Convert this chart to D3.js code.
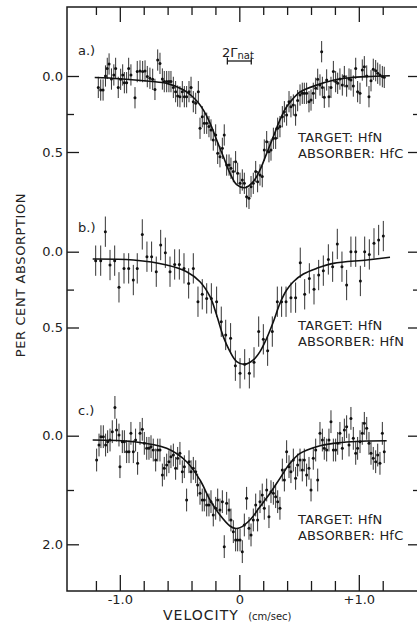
<!DOCTYPE html>
<html>
<head>
<meta charset="utf-8">
<script src="https://cdn.jsdelivr.net/npm/d3@7"></script>
<style>
body { margin: 0; background: #fff; }
text { font-family: "DejaVu Sans", sans-serif; fill: #222; }
.axis path { display: none; }
.axis line { stroke: #1a1a1a; stroke-width: 1.3; }
.err { stroke: #333; stroke-width: 1; }
.dot { fill: #111; }
.fit { fill: none; stroke: #111; stroke-width: 1.6; }
</style>
</head>
<body>
<svg width="417" height="628"></svg>
<script>

// ---- data: [velocity (cm/sec), per cent absorption] ----
var aPoints = [[-1.18,0.075],[-1.16,0.092],[-1.14,0.092],[-1.12,0.0],[-1.105,-0.05],[-1.09,-0.079],[-1.07,0.02],[-1.05,-0.007],[-1.035,-0.05],[-1.013,0.075],[-0.993,0.022],[-0.976,-0.007],[-0.962,0.044],[-0.943,0.044],[-0.926,-0.05],[-0.907,-0.007],[-0.873,0.143],[-0.854,-0.029],[-0.831,-0.033],[-0.809,-0.029],[-0.789,-0.033],[-0.77,0.004],[-0.748,0.015],[-0.725,0.022],[-0.706,0.088],[-0.683,-0.105],[-0.664,-0.083],[-0.644,0.02],[-0.628,0.037],[-0.608,0.037],[-0.589,0.037],[-0.572,0.037],[-0.552,0.075],[-0.533,0.103],[-0.516,0.132],[-0.497,0.136],[-0.477,0.103],[-0.46,0.136],[-0.441,0.136],[-0.421,0.103],[-0.404,0.075],[-0.385,0.169],[-0.365,0.18],[-0.343,0.103],[-0.329,0.344],[-0.31,0.268],[-0.293,0.311],[-0.273,0.311],[-0.254,0.333],[-0.237,0.355],[-0.218,0.421],[-0.198,0.388],[-0.181,0.509],[-0.162,0.531],[-0.142,0.476],[-0.126,0.388],[-0.106,0.586],[-0.086,0.586],[-0.07,0.607],[-0.05,0.629],[-0.031,0.564],[-0.014,0.64],[0.006,0.706],[0.025,0.684],[0.042,0.706],[0.061,0.794],[0.081,0.805],[0.098,0.728],[0.117,0.706],[0.137,0.629],[0.153,0.695],[0.173,0.651],[0.192,0.662],[0.209,0.487],[0.229,0.432],[0.248,0.498],[0.265,0.487],[0.285,0.41],[0.304,0.41],[0.321,0.344],[0.34,0.333],[0.36,0.268],[0.377,0.235],[0.396,0.257],[0.416,0.169],[0.432,0.202],[0.452,0.191],[0.471,0.257],[0.488,0.162],[0.508,0.125],[0.527,0.114],[0.544,0.114],[0.563,0.114],[0.583,0.169],[0.6,0.158],[0.619,0.114],[0.639,0.081],[0.656,0.022],[0.675,0.059],[0.689,-0.16],[0.695,0.075],[0.711,0.14],[0.731,0.026],[0.75,0.136],[0.767,0.075],[0.787,-0.029],[0.806,0.037],[0.823,0.048],[0.842,0.02],[0.862,0.059],[0.879,0.004],[0.898,0.066],[0.918,0.02],[0.934,0.026],[0.954,0.066],[0.974,-0.05],[0.99,0.103],[1.01,0.114],[1.029,-0.039],[1.046,-0.061],[1.066,0.0],[1.085,0.136],[1.102,0.031],[1.121,-0.044],[1.141,-0.035],[1.158,-0.018],[1.177,-0.007],[1.197,0.004],[1.213,0.009]];
var aFit = [[-1.21,0.01],[-1.0,0.018],[-0.75,0.035],[-0.6,0.05],[-0.47,0.09],[-0.4,0.13],[-0.35,0.17],[-0.3,0.225],[-0.245,0.31],[-0.19,0.42],[-0.134,0.53],[-0.078,0.64],[-0.022,0.715],[0.047,0.735],[0.117,0.695],[0.173,0.618],[0.229,0.509],[0.285,0.399],[0.34,0.289],[0.396,0.202],[0.452,0.147],[0.508,0.105],[0.647,0.06],[0.787,0.028],[0.926,0.012],[1.066,0.004],[1.26,-0.002]];
var aErr = 0.07;

var bPoints = [[-1.202,0.059],[-1.16,0.059],[-1.121,-0.132],[-1.082,0.088],[-1.043,0.059],[-1.007,0.235],[-0.965,0.11],[-0.926,0.11],[-0.887,0.187],[-0.854,0.11],[-0.812,-0.114],[-0.773,0.033],[-0.734,0.033],[-0.695,0.132],[-0.658,-0.044],[-0.619,0.007],[-0.58,0.132],[-0.541,0.084],[-0.502,0.084],[-0.463,0.11],[-0.424,0.209],[-0.385,0.11],[-0.346,0.33],[-0.31,0.281],[-0.273,0.308],[-0.234,0.308],[-0.19,0.33],[-0.151,0.462],[-0.114,0.549],[-0.073,0.571],[-0.033,0.752],[0.006,0.802],[0.045,0.743],[0.084,0.802],[0.123,0.73],[0.162,0.527],[0.201,0.578],[0.237,0.653],[0.276,0.527],[0.318,0.33],[0.354,0.33],[0.391,0.33],[0.432,0.303],[0.471,0.303],[0.51,0.073],[0.547,0.281],[0.586,0.176],[0.625,0.248],[0.664,0.154],[0.703,0.125],[0.745,0.051],[0.781,0.099],[0.82,-0.051],[0.859,0.099],[0.898,0.22],[0.934,0.0],[0.974,0.0],[1.013,0.193],[1.049,0.0],[1.088,0.018],[1.127,-0.055],[1.166,-0.077],[1.205,-0.103]];
var bFit = [[-1.227,0.048],[-0.887,0.055],[-0.608,0.088],[-0.441,0.132],[-0.329,0.198],[-0.245,0.297],[-0.19,0.418],[-0.134,0.56],[-0.078,0.659],[-0.022,0.725],[0.047,0.743],[0.117,0.714],[0.173,0.659],[0.229,0.571],[0.285,0.462],[0.34,0.341],[0.396,0.253],[0.452,0.198],[0.536,0.147],[0.647,0.11],[0.787,0.077],[1.066,0.055],[1.261,0.037]];
var bErr = 0.1;

var cPoints = [[-1.194,0.448],[-1.174,0.172],[-1.158,0.018],[-1.138,0.018],[-1.119,0.172],[-1.102,0.11],[-1.082,0.08],[-1.063,-0.074],[-1.041,-0.521],[-1.027,-0.104],[-1.007,-0.012],[-0.999,0.571],[-0.979,0.11],[-0.962,0.11],[-0.943,0.294],[-0.923,0.294],[-0.907,-0.043],[-0.887,0.294],[-0.868,0.08],[-0.851,0.509],[-0.831,-0.043],[-0.812,-0.117],[-0.795,0.141],[-0.775,0.233],[-0.756,0.233],[-0.739,0.202],[-0.72,0.264],[-0.7,0.448],[-0.683,0.264],[-0.664,0.264],[-0.644,0.724],[-0.628,0.601],[-0.608,0.54],[-0.589,0.479],[-0.572,0.387],[-0.552,0.356],[-0.533,0.601],[-0.516,0.417],[-0.497,0.325],[-0.477,0.663],[-0.46,0.571],[-0.441,1.184],[-0.421,0.479],[-0.404,0.663],[-0.385,0.601],[-0.365,0.663],[-0.349,0.908],[-0.329,1.061],[-0.31,1.184],[-0.293,1.184],[-0.273,1.276],[-0.254,1.276],[-0.237,1.215],[-0.218,1.46],[-0.198,1.337],[-0.181,1.184],[-0.162,1.368],[-0.142,1.215],[-0.126,2.043],[-0.106,1.245],[-0.086,1.368],[-0.07,1.552],[-0.05,1.767],[-0.031,1.92],[-0.014,1.92],[0.006,1.92],[0.025,2.135],[0.042,1.644],[0.061,1.153],[0.081,1.706],[0.098,1.828],[0.117,1.552],[0.137,1.276],[0.153,1.552],[0.173,1.215],[0.192,1.092],[0.209,1.337],[0.229,1.0],[0.248,1.491],[0.265,1.031],[0.285,1.061],[0.304,1.123],[0.321,1.215],[0.34,1.337],[0.36,0.632],[0.377,0.816],[0.396,0.294],[0.416,0.571],[0.432,0.663],[0.452,0.448],[0.471,0.785],[0.488,0.54],[0.508,0.448],[0.527,0.632],[0.544,0.448],[0.563,0.724],[0.583,0.601],[0.6,1.0],[0.619,0.417],[0.639,0.264],[0.656,0.816],[0.675,-0.043],[0.695,0.08],[0.711,0.233],[0.731,0.264],[0.75,0.08],[0.767,-0.258],[0.787,0.264],[0.806,0.264],[0.823,0.141],[0.842,-0.043],[0.862,0.233],[0.879,-0.104],[0.898,-0.166],[0.918,0.172],[0.934,-0.319],[0.954,0.049],[0.974,0.325],[0.99,0.233],[1.01,0.11],[1.029,-0.043],[1.046,-0.227],[1.066,-0.135],[1.085,0.141],[1.102,0.325],[1.121,0.417],[1.141,0.479],[1.158,0.356],[1.177,0.509],[1.197,-0.043],[1.213,0.294]];
var cFit = [[-1.227,0.08],[-0.887,0.11],[-0.608,0.233],[-0.441,0.479],[-0.329,0.816],[-0.245,1.184],[-0.162,1.46],[-0.078,1.663],[-0.036,1.706],[0.006,1.693],[0.089,1.552],[0.173,1.307],[0.257,1.061],[0.34,0.785],[0.424,0.509],[0.508,0.325],[0.647,0.202],[0.787,0.141],[1.066,0.098],[1.233,0.092]];
var cErr = 0.21;

// ticks and labels
var xMajor = [-1, 0, 1];
var xMajorLabels = ["-1.0", "0", "+1.0"];
var xMinor = [-1.2, -0.8, -0.6, -0.4, -0.2, 0.2, 0.4, 0.6, 0.8, 1.2];
var abMajor = [0, 0.5], abMinor = [0.25];
var cMajor = [0, 2.0], cMinor = [1.0];
var panelTags = ["a.)", "b.)", "c.)"];
var targets = ["TARGET: HfN", "TARGET: HfN", "TARGET: HfN"];
var absorbers = ["ABSORBER: HfC", "ABSORBER: HfN", "ABSORBER: HfC"];
var natWidth = [-0.1, 0.1];   // 2 Gamma_nat marker, cm/sec

var svg = d3.select("svg");
var frameL = 67, frameR = 420, frameT = 7, frameB = 591;

var x = d3.scaleLinear().domain([-1.442, 1.512]).range([frameL, frameR]);

var panels = [
  {pts: aPoints, fit: aFit, err: aErr, major: abMajor, minor: abMinor,
   y: d3.scaleLinear().domain([0, 0.5]).range([76, 152]), tagY: 55, legY: 142},
  {pts: bPoints, fit: bFit, err: bErr, major: abMajor, minor: abMinor,
   y: d3.scaleLinear().domain([0, 0.5]).range([251.7, 327.5]), tagY: 232, legY: 330},
  {pts: cPoints, fit: cFit, err: cErr, major: cMajor, minor: cMinor,
   y: d3.scaleLinear().domain([0, 2.0]).range([435.7, 544.3]), tagY: 415, legY: 524}
];

// frame
svg.append("rect")
    .attr("x", frameL).attr("y", frameT)
    .attr("width", frameR - frameL).attr("height", frameB - frameT)
    .attr("fill", "none").attr("stroke", "#1a1a1a").attr("stroke-width", 1.5);

function styleLabels(sel) {
  sel.selectAll("text").style("font-size", "13px").attr("fill", "#222");
}

// x axes (bottom and top, ticks pointing in)
svg.append("g").attr("class", "axis")
    .attr("transform", "translate(0," + frameB + ")")
    .call(d3.axisBottom(x).tickValues(xMajor).tickSize(-16).tickPadding(4)
      .tickFormat(function(d, i) { return xMajorLabels[i]; }))
    .call(styleLabels);
svg.append("g").attr("class", "axis")
    .attr("transform", "translate(0," + frameB + ")")
    .call(d3.axisBottom(x).tickValues(xMinor).tickSize(-10).tickFormat(""));
svg.append("g").attr("class", "axis")
    .attr("transform", "translate(0," + frameT + ")")
    .call(d3.axisTop(x).tickValues(xMajor).tickSize(-15).tickFormat(""));
svg.append("g").attr("class", "axis")
    .attr("transform", "translate(0," + frameT + ")")
    .call(d3.axisTop(x).tickValues(xMinor).tickSize(-8).tickFormat(""));

var line = d3.line().curve(d3.curveCatmullRom.alpha(0.5));

panels.forEach(function(p, i) {
  var y = p.y;

  svg.append("g").attr("class", "axis")
      .attr("transform", "translate(" + frameL + ",0)")
      .call(d3.axisLeft(y).tickValues(p.major).tickSize(-12).tickPadding(4)
        .tickFormat(d3.format(".1f")))
      .call(styleLabels);
  svg.append("g").attr("class", "axis")
      .attr("transform", "translate(" + frameL + ",0)")
      .call(d3.axisLeft(y).tickValues(p.minor).tickSize(-7).tickFormat(""));
  svg.append("g").attr("class", "axis")
      .attr("transform", "translate(" + frameR + ",0)")
      .call(d3.axisRight(y).tickValues(p.major).tickSize(-12).tickFormat(""));
  svg.append("g").attr("class", "axis")
      .attr("transform", "translate(" + frameR + ",0)")
      .call(d3.axisRight(y).tickValues(p.minor).tickSize(-7).tickFormat(""));

  var g = svg.append("g");
  g.selectAll("line.err").data(p.pts).enter().append("line")
      .attr("class", "err")
      .attr("x1", function(d) { return x(d[0]); })
      .attr("x2", function(d) { return x(d[0]); })
      .attr("y1", function(d) { return y(d[1] - p.err); })
      .attr("y2", function(d) { return y(d[1] + p.err); });
  g.selectAll("circle").data(p.pts).enter().append("circle")
      .attr("class", "dot")
      .attr("r", 1.5)
      .attr("cx", function(d) { return x(d[0]); })
      .attr("cy", function(d) { return y(d[1]); });

  g.append("path").attr("class", "fit")
      .attr("d", line(p.fit.map(function(d) { return [x(d[0]), y(d[1])]; })));

  svg.append("text").attr("x", 78).attr("y", p.tagY)
      .style("font-size", "13px")
      .text(panelTags[i]);
  svg.append("text").attr("x", 298).attr("y", p.legY)
      .style("font-size", "13px").style("letter-spacing", "0.2px")
      .text(targets[i]);
  svg.append("text").attr("x", 298).attr("y", p.legY + 16)
      .style("font-size", "13px").style("letter-spacing", "0.2px")
      .text(absorbers[i]);
});

// 2 Gamma_nat marker
var natY = 61;
svg.append("line")
    .attr("x1", x(natWidth[0])).attr("x2", x(natWidth[1]))
    .attr("y1", natY).attr("y2", natY)
    .attr("stroke", "#1a1a1a").attr("stroke-width", 1.3);
natWidth.forEach(function(v) {
  svg.append("line")
      .attr("x1", x(v)).attr("x2", x(v))
      .attr("y1", natY - 3.5).attr("y2", natY + 3.5)
      .attr("stroke", "#1a1a1a").attr("stroke-width", 1.3);
});
var nat = svg.append("text").attr("x", 222).attr("y", 56.5)
    .style("font-size", "13px");
nat.append("tspan").text("2\u0393");
nat.append("tspan").attr("dy", 2).style("font-size", "10px").text("nat");

// axis titles
svg.append("text")
    .attr("transform", "translate(25,275) rotate(-90)")
    .attr("text-anchor", "middle")
    .style("font-size", "13px").style("letter-spacing", "0.6px")
    .text("PER CENT  ABSORPTION");

var xt = svg.append("text").attr("x", 163).attr("y", 620)
    .style("font-size", "14px").style("letter-spacing", "1px");
xt.append("tspan").text("VELOCITY ");
xt.append("tspan").attr("dx", 4).style("font-size", "10px").style("letter-spacing", "0px").text("(cm/sec)");

</script>
</body>
</html>
